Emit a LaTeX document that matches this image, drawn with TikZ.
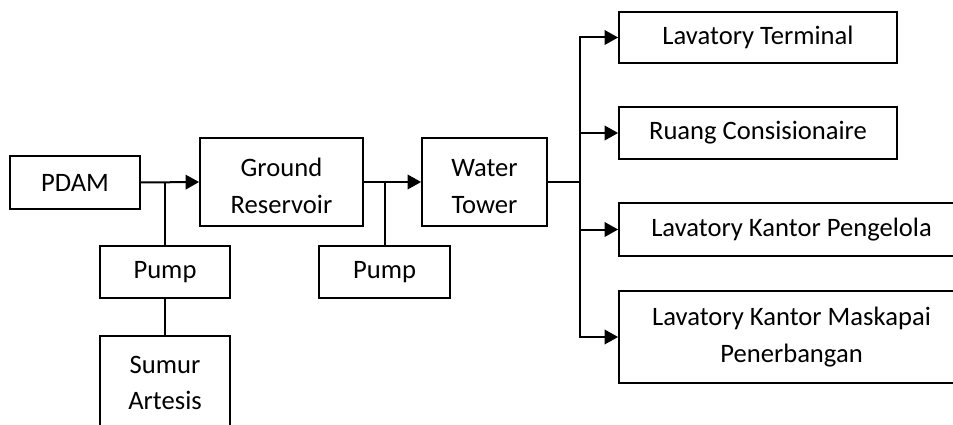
\documentclass[tikz,border=0pt]{standalone}
\usepackage{fontspec}
\setmainfont{Carlito}
\usetikzlibrary{arrows.meta}
\begin{document}
\begin{tikzpicture}[x=1pt,y=-1pt,
  box/.style={draw,line width=1.8pt,inner sep=0pt,align=center,
    font=\fontsize{26.6}{36.7}\selectfont},
  link/.style={line width=2pt},
  arr/.style={line width=2pt,-{Triangle[length=13.5pt,width=14.5pt]}}]
\useasboundingbox (0,0) rectangle (953,425);

% source side
\node[box,minimum width=130,minimum height=53] (pdam) at (75,182.5) {PDAM};
\node[box,minimum width=163,minimum height=88] (gr) at (281.5,182) {\strut Ground\\Reservoir};
\node[box,minimum width=130,minimum height=52] (pump1) at (165,272) {Pump};
\node[box,minimum width=130,minimum height=94] (sumur) at (165,383) {Sumur\\Artesis};
\node[box,minimum width=131,minimum height=52] (pump2) at (384.5,272) {Pump};
\node[box,minimum width=125,minimum height=88] (wt) at (484.5,182) {\strut Water\\Tower};

% consumers
\node[box,minimum width=278,minimum height=51] (lt) at (758,37.5) {Lavatory Terminal};
\node[box,minimum width=278,minimum height=52] (rc) at (758,133) {Ruang Consisionaire};
\node[box,minimum width=345,minimum height=53] (lkp) at (791.5,229.5) {Lavatory Kantor Pengelola};
\node[box,minimum width=345,minimum height=92] (lkm) at (791.5,337) {Lavatory Kantor Maskapai\\Penerbangan};

% supply lines
\draw[arr] (pdam.east) -- (gr.west);
\draw[link] (pump1.north) -- (pump1.north |- pdam.east);
\draw[link] (pump1.south) -- (sumur.north);
\draw[arr] (gr.east) -- (wt.west);
\draw[link] (pump2.north) -- (pump2.north |- gr.east);

% distribution bus
\coordinate (bus) at (580,182);
\draw[link] (wt.east) -- (bus);
\draw[arr] (bus) |- (lt.west);
\draw[arr] (bus) |- (rc.west);
\draw[arr] (bus) |- (lkp.west);
\draw[arr] (bus) |- (lkm.west);
\end{tikzpicture}
\end{document}
